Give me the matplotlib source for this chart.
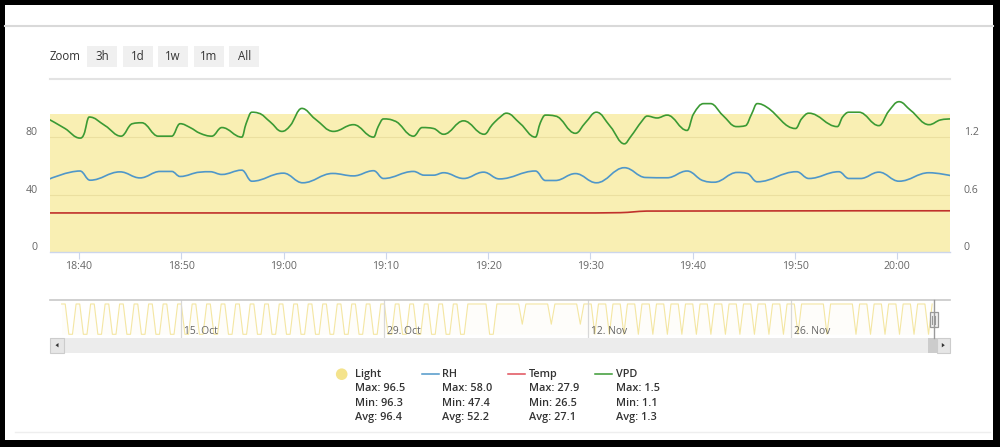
import numpy as np
import pandas as pd
import matplotlib
matplotlib.use("Agg")
import matplotlib.pyplot as plt
import matplotlib.dates as mdates
from matplotlib.patches import Rectangle, Circle, Polygon, PathPatch
from matplotlib.path import Path
from matplotlib.transforms import ScaledTranslation

plt.rcParams['font.family'] = ['Open Sans', 'DejaVu Sans']

# ---------------- data ----------------
DAY = "2018-12-05"
x_range = ["18:37:10", "20:05:09"]

vpd_times = ["18:37:10", "18:38:38", "18:40:06", "18:40:29", "18:41:00", "18:42:33", "18:44:07", "18:45:13",
             "18:46:08", "18:47:45", "18:49:04", "18:49:53", "18:50:52", "18:51:50", "18:52:59", "18:53:58",
             "18:55:55", "18:56:20", "18:56:54", "18:57:33", "18:58:41", "18:59:50", "19:00:39", "19:01:47",
             "19:03:05", "19:04:53", "19:06:50", "19:08:48", "19:09:15", "19:09:46", "19:10:49", "19:12:42",
             "19:13:33", "19:14:40", "19:15:39", "19:17:36", "19:19:37", "19:20:24", "19:21:11", "19:21:47",
             "19:23:09", "19:24:37", "19:25:06", "19:25:36", "19:26:34", "19:28:32", "19:29:30", "19:30:35",
             "19:31:57", "19:33:19", "19:33:54", "19:35:03", "19:35:33", "19:36:31", "19:37:30", "19:39:27",
             "19:40:04", "19:41:05", "19:41:44", "19:42:55", "19:44:17", "19:45:10", "19:45:45", "19:46:18",
             "19:47:17", "19:50:03", "19:50:38", "19:51:21", "19:54:08", "19:54:39", "19:55:16", "19:56:15",
             "19:58:12", "19:59:09", "20:00:10", "20:01:18", "20:03:06", "20:04:14", "20:05:09"]
vpd_values = [1.38, 1.29, 1.19, 1.23, 1.41, 1.32, 1.21, 1.34,
              1.35, 1.21, 1.21, 1.34, 1.30, 1.24, 1.21, 1.30,
              1.20, 1.34, 1.46, 1.45, 1.36, 1.26, 1.32, 1.50,
              1.39, 1.26, 1.33, 1.20, 1.31, 1.39, 1.37, 1.21,
              1.30, 1.29, 1.23, 1.37, 1.23, 1.33, 1.41, 1.45,
              1.34, 1.20, 1.35, 1.43, 1.42, 1.24, 1.35, 1.46,
              1.31, 1.13, 1.20, 1.37, 1.42, 1.40, 1.43, 1.27,
              1.44, 1.55, 1.55, 1.43, 1.31, 1.32, 1.44, 1.55,
              1.51, 1.29, 1.39, 1.45, 1.31, 1.41, 1.46, 1.46,
              1.32, 1.47, 1.57, 1.48, 1.33, 1.38, 1.39]

rh_times = ["18:37:10", "18:40:06", "18:41:05", "18:44:01", "18:45:58", "18:47:56", "18:49:04", "18:49:53",
            "18:51:50", "18:52:49", "18:53:58", "18:55:55", "18:56:54", "18:59:59", "19:01:52", "19:04:48",
            "19:06:50", "19:08:48", "19:09:46", "19:12:42", "19:13:45", "19:14:40", "19:15:39", "19:17:36",
            "19:19:33", "19:21:06", "19:24:37", "19:25:36", "19:26:34", "19:28:32", "19:30:35", "19:33:19",
            "19:35:23", "19:37:30", "19:39:27", "19:41:04", "19:42:06", "19:44:21", "19:45:20", "19:46:18",
            "19:50:09", "19:51:21", "19:54:17", "19:55:16", "19:56:24", "19:58:12", "20:00:10", "20:03:06",
            "20:05:09"]
rh_values = [51.0, 56.4, 50.0, 55.8, 51.6, 56.1, 56.1, 52.6,
             55.6, 55.9, 54.0, 57.0, 49.3, 54.9, 48.2, 54.7,
             53.0, 56.6, 51.2, 56.1, 53.5, 53.5, 55.2, 51.2,
             55.6, 50.9, 56.4, 49.8, 49.8, 54.6, 48.2, 58.7,
             51.9, 51.7, 56.4, 49.6, 48.6, 55.4, 54.7, 48.9,
             55.9, 51.2, 55.9, 51.2, 51.2, 55.6, 49.3, 55.2,
             53.3]

temp_times = ["18:37:10", "19:28:00", "19:32:56", "19:35:30", "20:05:09"]
temp_values = [27.2, 27.2, 27.4, 28.5, 28.7]

light_times = ["18:37:10", "20:05:09"]
light_values = [96.4, 96.4]

left_ticks = [0, 40, 80]
right_ticks = [0, 0.6, 1.2]
right_tick_labels = ["0", "0.6", "1.2"]

# navigator: daily photoperiod (hours of light per cycle, cycles start 18:00)
nav_start = "2018-10-06 18:00"
nav_end = "2018-12-05 20:05"
nav_xlim = ["2018-10-05 22:50", "2018-12-06 23:30"]
photoperiod_hours = [12, 12, 12, 12, 12, 12, 12, 12, 12, 12,   # Oct 6-15
                     12, 12, 12, 12, 12, 12, 12, 12, 12, 12,   # Oct 16-25
                     12, 12, 12, 12, 12, 12,                   # Oct 26-31
                     12, 12, 24, 12, 24, 20, 24, 20, 24, 20,   # Nov 1-10
                     18, 18, 18, 18, 18, 18, 18, 18, 18, 18,   # Nov 11-20
                     18, 18, 18, 18, 18, 24, 18, 24, 18, 18,   # Nov 21-30
                     18, 18, 18, 18, 18]                       # Dec 1-5
light_level = 96.4
nav_tick_dates = ["2018-10-15", "2018-10-29", "2018-11-12", "2018-11-26"]
nav_tick_labels = ["15. Oct", "29. Oct", "12. Nov", "26. Nov"]

zoom_buttons = ["3h", "1d", "1w", "1m", "All"]

legend_names = ["Light", "RH", "Temp", "VPD"]
legend_max = ["96.5", "58.0", "27.9", "1.5"]
legend_min = ["96.3", "47.4", "26.5", "1.1"]
legend_avg = ["96.4", "52.2", "27.1", "1.3"]

# ---------------- styles ----------------
W, H = 1000, 447
C_LIGHT = "#f9efb3"
C_LIGHT_DOT = "#f4e38c"
C_RH = "#4f97c9"
C_TEMP = "#c0312b"
C_TEMP_LEG = "#e0505a"
C_VPD = "#3b9a34"
C_TXT = "#333333"
C_LBL = "#666666"

fig = plt.figure(figsize=(W / 100, H / 100), dpi=100)
fig.patch.set_facecolor("black")


def px_axes(x0, y0, x1, y1, **kw):
    return fig.add_axes([x0 / W, 1 - y1 / H, (x1 - x0) / W, (y1 - y0) / H], **kw)


def full_axes(z):
    a = fig.add_axes([0, 0, 1, 1], zorder=z)
    a.set_xlim(0, W)
    a.set_ylim(H, 0)
    a.axis("off")
    a.patch.set_alpha(0)
    return a


def spline_patch(xs, ys, color, lw, smoothing=1.5):
    """Highcharts-style spline: cubic Bezier through every data point."""
    xs = np.asarray(xs, dtype=float)
    ys = np.asarray(ys, dtype=float)
    n = len(xs)
    lc = [(xs[i], ys[i]) for i in range(n)]
    rc = [(xs[i], ys[i]) for i in range(n)]
    d = smoothing + 1
    for i in range(1, n - 1):
        lx = (smoothing * xs[i] + xs[i - 1]) / d
        ly = (smoothing * ys[i] + ys[i - 1]) / d
        rx = (smoothing * xs[i] + xs[i + 1]) / d
        ry = (smoothing * ys[i] + ys[i + 1]) / d
        corr = 0.0
        if rx != lx:
            corr = (ry - ly) * (rx - xs[i]) / (rx - lx) + ys[i] - ry
        ly += corr
        ry += corr
        if ly > ys[i - 1] and ly > ys[i]:
            ly = max(ys[i - 1], ys[i]); ry = 2 * ys[i] - ly
        elif ly < ys[i - 1] and ly < ys[i]:
            ly = min(ys[i - 1], ys[i]); ry = 2 * ys[i] - ly
        if ry > ys[i + 1] and ry > ys[i]:
            ry = max(ys[i + 1], ys[i]); ly = 2 * ys[i] - ry
        elif ry < ys[i + 1] and ry < ys[i]:
            ry = min(ys[i + 1], ys[i]); ly = 2 * ys[i] - ry
        lc[i] = (lx, ly)
        rc[i] = (rx, ry)
    verts = [(xs[0], ys[0])]
    codes = [Path.MOVETO]
    for i in range(1, n):
        verts += [rc[i - 1], lc[i], (xs[i], ys[i])]
        codes += [Path.CURVE4] * 3
    return PathPatch(Path(verts, codes), facecolor="none", edgecolor=color, lw=lw,
                     capstyle="round", joinstyle="round", zorder=3)


bg = full_axes(-10)
fg = full_axes(10)

# panel
bg.add_patch(Rectangle((5, 5), 988, 435, facecolor="white", edgecolor="none"))
bg.plot([5, 993], [26, 26], color="#d9d9d9", lw=1.5)
bg.plot([50, 950], [78.5, 78.5], color="#e3e3e3", lw=1.5)
bg.plot([15, 990], [432, 432], color="#eeeeee", lw=1.0)

# zoom buttons
bg.text(50, 56.5, "Zoom", ha="left", va="center", fontsize=8.3, color=C_TXT)
btn_x = [87.3, 122.7, 158.0, 193.7, 229.3]
for bx, lab in zip(btn_x, zoom_buttons):
    bg.add_patch(Rectangle((bx, 46), 30, 20.5, facecolor="#f0f0f0", edgecolor="none"))
    bg.text(bx + 15, 56.5, lab, ha="center", va="center", fontsize=8.3, color=C_TXT)

# ---------------- main chart ----------------
def to_dt(ts):
    return pd.to_datetime([DAY + " " + t for t in ts])


LEFT_MAX = 116.3
ax = px_axes(50, 85, 950, 252)
ax.patch.set_alpha(0)
ax.fill_between(to_dt(light_times), 0, light_values, color=C_LIGHT, lw=0, zorder=1)
for v in left_ticks[1:]:
    ax.axhline(v, color="#ebdfa0", lw=0.8, zorder=1.5)
ax.add_patch(spline_patch(mdates.date2num(to_dt(rh_times)), rh_values, C_RH, 1.2))
ax.add_patch(spline_patch(mdates.date2num(to_dt(temp_times)), temp_values, C_TEMP, 1.2))
ax.set_ylim(0, LEFT_MAX)
ax.set_xlim(to_dt(x_range))
for s in ["top", "left", "right"]:
    ax.spines[s].set_visible(False)
ax.spines["bottom"].set_color("#ccd6eb")
ax.spines["bottom"].set_linewidth(1.0)
ax.xaxis.set_major_locator(mdates.MinuteLocator(byminute=range(0, 60, 10)))
ax.xaxis.set_major_formatter(mdates.DateFormatter("%H:%M"))
ax.tick_params(axis="x", length=5, color="#ccd6eb", labelcolor=C_LBL, labelsize=7.6, pad=1.5)
ax.set_yticks(left_ticks)
ax.set_yticklabels([str(v) for v in left_ticks])
ax.tick_params(axis="y", length=0, labelcolor=C_LBL, labelsize=7.6, pad=9)

ax2 = ax.twinx()
ax2.add_patch(spline_patch(mdates.date2num(to_dt(vpd_times)), vpd_values, C_VPD, 1.2))
ax2.set_ylim(0, LEFT_MAX * 0.015)
ax2.set_xlim(to_dt(x_range))
for s in ["top", "left", "right", "bottom"]:
    ax2.spines[s].set_visible(False)
ax2.set_yticks(right_ticks)
ax2.set_yticklabels(right_tick_labels)
ax2.tick_params(axis="y", length=0, labelcolor=C_LBL, labelsize=7.6, pad=10)

up = ScaledTranslation(0, 6 / 100, fig.dpi_scale_trans)
for lab in ax.get_yticklabels() + ax2.get_yticklabels():
    lab.set_transform(lab.get_transform() + up)

# ---------------- navigator ----------------
start = pd.Timestamp(nav_start)
end = pd.Timestamp(nav_end)
hours = pd.date_range(start, end, freq="h")
elapsed = (hours - start) / pd.Timedelta(hours=1)
cycle = (elapsed // 24).astype(int)
within = elapsed % 24
on = np.array([w < photoperiod_hours[c] for c, w in zip(cycle, within)], dtype=float)
hourly = pd.Series(on * light_level, index=hours)
grouped = hourly.resample("6h").mean()

nav = px_axes(50, 300, 950, 338)
nav.patch.set_alpha(0)
nav.fill_between(grouped.index, 0, grouped.values, color="#f5e7a0", alpha=0.05, lw=0)
nav.plot(grouped.index, grouped.values, color="#f4e6a2", lw=0.8)
nav.set_xlim(pd.to_datetime(nav_xlim))
nav.set_ylim(-11.8, 109.1)
for s in ["left", "right", "bottom"]:
    nav.spines[s].set_visible(False)
nav.spines["top"].set_color("#c8c8c8")
nav.spines["top"].set_linewidth(1.2)
nav.set_xticks([])
nav.set_yticks([])
off = ScaledTranslation(3 / 100, 0, fig.dpi_scale_trans)
for d, lab in zip(pd.to_datetime(nav_tick_dates), nav_tick_labels):
    nav.axvline(d, color="#d8d8d8", lw=0.9)
    nav.text(d, 0.18, lab, transform=nav.get_xaxis_transform() + off, ha="left", va="center",
             fontsize=7.4, color=C_LBL)

# handle
fg.plot([933.6, 933.6], [300, 338], color="#999999", lw=1.0)
fg.add_patch(Rectangle((929.8, 312), 8, 15, facecolor="#f2f2f2", edgecolor="#999999", lw=0.9))
fg.plot([932.4, 932.4], [315.5, 323.5], color="#999999", lw=0.8)
fg.plot([935.2, 935.2], [315.5, 323.5], color="#999999", lw=0.8)

# scrollbar
bg.add_patch(Rectangle((50, 338), 900, 14.5, facecolor="#ececec", edgecolor="none"))
bg.add_patch(Rectangle((50, 338), 14, 14.5, facecolor="#e6e6e6", edgecolor="#cccccc", lw=0.8))
bg.add_patch(Polygon([[55.5, 345.2], [58.5, 343.0], [58.5, 347.4]], closed=True, facecolor="#333333", edgecolor="none"))
bg.add_patch(Rectangle((927.5, 338), 9.5, 14.5, facecolor="#cccccc", edgecolor="none"))
bg.add_patch(Rectangle((937, 338), 13, 14.5, facecolor="#e6e6e6", edgecolor="#cccccc", lw=0.8))
bg.add_patch(Polygon([[944.8, 345.2], [941.8, 343.0], [941.8, 347.4]], closed=True, facecolor="#333333", edgecolor="none"))

# ---------------- legend ----------------
leg_text_x = [355.0, 441.7, 529.0, 616.0]
leg_line_x = [None, (421.5, 438.5), (508, 525), (595, 612)]
leg_colors = [C_LIGHT_DOT, C_RH, C_TEMP_LEG, C_VPD]
row_y = [374.5, 388.8, 403.2, 417.5]
bg.add_patch(Circle((341.7, 374.2), 5.8, facecolor=C_LIGHT_DOT, edgecolor="none"))
for i, name in enumerate(legend_names):
    if leg_line_x[i] is not None:
        bg.plot(leg_line_x[i], [374.2, 374.2], color=leg_colors[i], lw=1.1)
    rows = [name, "Max: " + legend_max[i], "Min: " + legend_min[i], "Avg: " + legend_avg[i]]
    for ry, txt in zip(row_y, rows):
        bg.text(leg_text_x[i], ry, txt, ha="left", va="center", fontsize=7.8,
                fontweight="semibold", color=C_TXT)

fig.savefig("out.png", dpi=100, facecolor=fig.get_facecolor())
